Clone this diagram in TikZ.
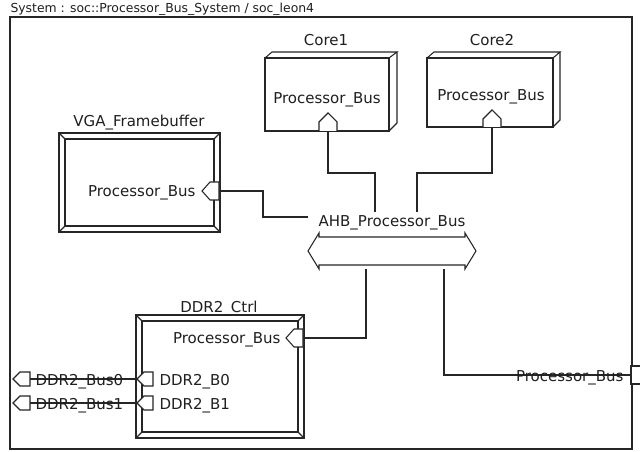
\documentclass[tikz,border=0pt]{standalone}
\usepackage{fontspec}
\setmainfont{DejaVu Sans}
\definecolor{lc}{gray}{0.15}
\definecolor{tc}{gray}{0.12}
\begin{document}
\begin{tikzpicture}[x=0.75pt,y=-0.75pt,line width=0.8pt,
  lbl/.style={font=\fontsize{11.25}{13}\selectfont,inner sep=0pt,text=tc},
  ttl/.style={font=\fontsize{9.3}{11}\selectfont,inner sep=0pt,text=tc},
  wire/.style={draw=lc,line width=0.8pt},
  shp/.style={draw=lc,line width=0.8pt},
  portshape/.style={draw=lc,fill=white,line width=0.8pt}]
\useasboundingbox (0,0) rectangle (640,452);
\fill[white] (0,0) rectangle (640,452);
% title and frame
\node[ttl,anchor=base west] (title) at (10,13) {System : soc::Processor\_Bus\_System / soc\_leon4};
\draw[shp] (10,17) rectangle (632,449);
% Core1
\draw[shp] (265,58) rectangle (389,131);
\draw[shp] (265,58) -- (272,52) -- (397,52) -- (389,58);
\draw[shp] (397,52) -- (397,123) -- (389,131);
\node[lbl,anchor=base] (core1) at (326,46) {Core1};
\node[lbl,anchor=base] (core1pb) at (327,104) {Processor\_Bus};
\draw[portshape] (319,131) -- (319,122) -- (328,113) -- (337,122) -- (337,131);
\coordinate (c1p) at (328,131);
% Core2
\draw[shp] (427,58) rectangle (553,127);
\draw[shp] (427,58) -- (434,52) -- (560,52) -- (553,58);
\draw[shp] (560,52) -- (560,120) -- (553,127);
\node[lbl,anchor=base] (core2) at (492,46) {Core2};
\node[lbl,anchor=base] (core2pb) at (491,101) {Processor\_Bus};
\draw[portshape] (483,127) -- (483,119) -- (492,110) -- (501,119) -- (501,127);
\coordinate (c2p) at (492,127);
% VGA_Framebuffer
\draw[shp] (59,133) rectangle (220,232);
\draw[shp] (65,139) rectangle (214,226);
\draw[shp] (59,133) -- (65,139) (220,133) -- (214,139) (59,232) -- (65,226) (220,232) -- (214,226);
\node[lbl,anchor=base] (vga) at (139,127) {VGA\_Framebuffer};
\node[lbl,anchor=base east] (vgapb) at (196,197) {Processor\_Bus};
\draw[portshape] (202,191) -- (210,182) -- (219,182) -- (219,200) -- (210,200) -- cycle;
\coordinate (vgap) at (219,191);
% AHB bus
\draw[shp] (319,237) -- (465,237) -- (465,233) -- (476,251) -- (465,269) -- (465,265)
  -- (319,265) -- (319,269) -- (308,251) -- (319,233) -- cycle;
\node[lbl,anchor=base] (ahb) at (392,227) {AHB\_Processor\_Bus};
\coordinate (busc1) at (375,212);
\coordinate (busc2) at (417,212);
\coordinate (busvga) at (308,217);
\coordinate (busd) at (366,269);
\coordinate (buse) at (444,269);
% DDR2_Ctrl
\draw[shp] (136,315) rectangle (304,438);
\draw[shp] (142,321) rectangle (298,432);
\draw[shp] (136,315) -- (142,321) (304,315) -- (298,321) (136,438) -- (142,432) (304,438) -- (298,432);
\node[lbl,anchor=base] (ddr) at (219,313) {DDR2\_Ctrl};
\node[lbl,anchor=base east] (ddrpb) at (281,344) {Processor\_Bus};
\draw[portshape] (286,338) -- (294,329) -- (303,329) -- (303,347) -- (294,347) -- cycle;
\coordinate (ddrp) at (303,338);
\node[lbl,anchor=base west] (b0) at (159,386) {DDR2\_B0};
\draw[portshape] (137,379) -- (144,372) -- (153,372) -- (153,386) -- (144,386) -- cycle;
\coordinate (b0p) at (137,379);
\node[lbl,anchor=base west] (b1) at (159,410) {DDR2\_B1};
\draw[portshape] (137,403) -- (144,396) -- (153,396) -- (153,410) -- (144,410) -- cycle;
\coordinate (b1p) at (137,403);
% external ports
\draw[portshape] (13,379) -- (20,372) -- (30,372) -- (30,386) -- (20,386) -- cycle;
\coordinate (e0) at (30,379);
\draw[portshape] (13,403) -- (20,396) -- (30,396) -- (30,410) -- (20,410) -- cycle;
\coordinate (e1) at (30,403);
\draw[portshape] (631,366) rectangle (645,384);
\coordinate (er) at (631,375);
% wires
\draw[wire] (c1p) |- (351,173) -| (busc1);
\draw[wire] (c2p) |- (455,173) -| (busc2);
\draw[wire] (vgap) -- (263,191) |- (busvga);
\draw[wire] (busd) |- (ddrp);
\draw[wire] (buse) |- (er);
\draw[wire] (e0) -- (b0p);
\draw[wire] (e1) -- (b1p);
% labels on external wires
\node[lbl,anchor=base west] (bus0) at (35,386) {DDR2\_Bus0};
\node[lbl,anchor=base west] (bus1) at (35,410) {DDR2\_Bus1};
\node[lbl,anchor=base east] (extpb) at (624,382) {Processor\_Bus};
\end{tikzpicture}
\end{document}
